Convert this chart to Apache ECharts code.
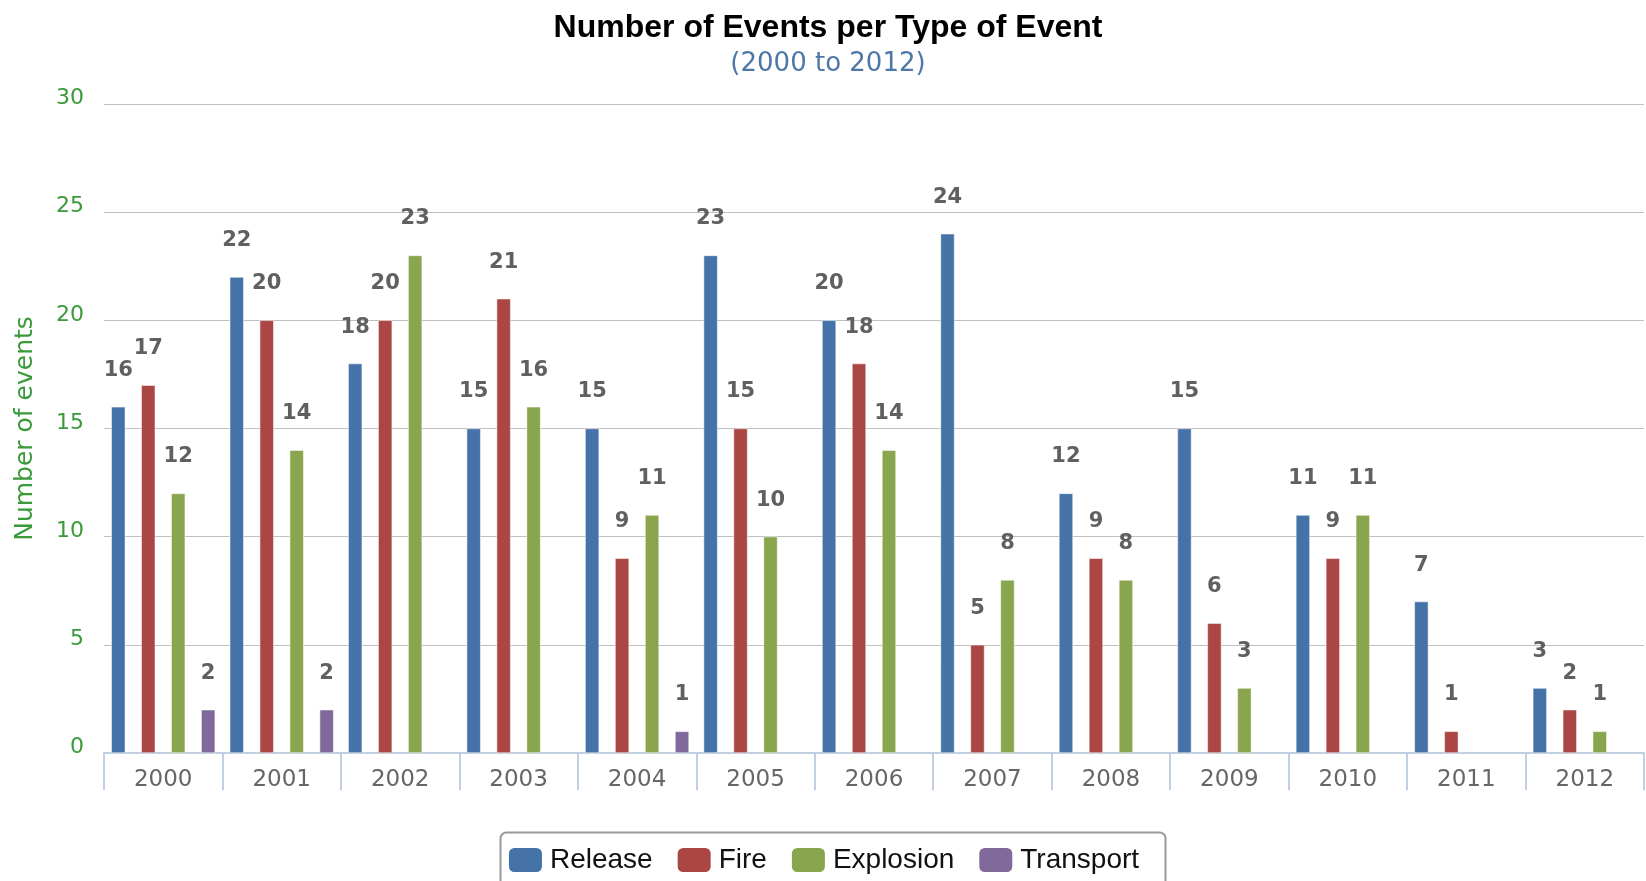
<!DOCTYPE html>
<html>
<head>
<meta charset="utf-8">
<title>Number of Events per Type of Event</title>
<script src="https://cdn.jsdelivr.net/npm/echarts@6/dist/echarts.min.js"></script>
<style>
  html, body { margin: 0; padding: 0; background: #fff; }
  #chart { width: 1646px; height: 881px; }
</style>
</head>
<body>
<div id="chart"></div>
<script>
// 数据
const years = ['2000', '2001', '2002', '2003', '2004', '2005', '2006', '2007', '2008', '2009', '2010', '2011', '2012']
const release = [16, 22, 18, 15, 15, 23, 20, 24, 12, 15, 11, 7, 3]
const fire = [17, 20, 20, 21, 9, 15, 18, 5, 9, 6, 9, 1, 2]
const explosion = [12, 14, 23, 16, 11, 10, 14, 8, 8, 3, 11, null, 1]
const transport = [2, 2, null, null, 1, null, null, null, null, null, null, null, null]

const colors = ['#4572A7', '#AA4643', '#89A54E', '#80699B']

const chart = echarts.init(document.getElementById('chart'))

function barSeries(name, data) {
  return {
    name,
    type: 'bar',
    data,
    barWidth: 14,
    barGap: '114%',
    itemStyle: { borderColor: '#fff', borderWidth: 0.5 },
    label: {
      show: true,
      position: 'top',
      distance: 26,
      color: '#606060',
      fontFamily: 'DejaVu Sans',
      fontWeight: 'bold',
      fontSize: 21,
    },
  }
}

chart.setOption({
  animation: false,
  color: colors,
  title: {
    text: 'Number of Events per Type of Event',
    subtext: '(2000 to 2012)',
    left: 828,
    textAlign: 'center',
    top: 12,
    padding: 0,
    itemGap: 7,
    textStyle: { fontFamily: 'Liberation Sans', fontWeight: 'bold', fontSize: 32, color: '#000' },
    subtextStyle: { fontFamily: 'DejaVu Sans', fontSize: 26, color: '#4d77a6' },
  },
  // 图例外框单独画，底边在画面之外
  graphic: [{
    type: 'rect',
    left: 498,
    top: 830,
    shape: { width: 665, height: 80, r: 6 },
    style: { fill: 'none', stroke: '#999', lineWidth: 2 },
  }],
  legend: {
    top: 846,
    left: 'center',
    icon: 'roundRect',
    itemWidth: 35,
    itemHeight: 26,
    itemGap: 23,
    padding: 0,
    textStyle: { fontFamily: 'Liberation Sans', fontSize: 28, color: '#111', padding: [0, 0, 0, 2] },
  },
  grid: { left: 104, right: 2, top: 104, bottom: 128 },
  xAxis: {
    type: 'category',
    data: years,
    axisLine: { lineStyle: { color: '#C0D0E0', width: 2 } },
    axisTick: { show: true, length: 37, lineStyle: { color: '#C0D0E0', width: 2 } },
    axisLabel: { fontFamily: 'DejaVu Sans', fontSize: 23, color: '#666', margin: 16 },
  },
  yAxis: {
    type: 'value',
    min: 0,
    max: 30,
    interval: 5,
    name: 'Number of events',
    nameLocation: 'middle',
    nameGap: 66,
    nameTextStyle: { fontFamily: 'DejaVu Sans', fontSize: 25, color: '#3a9a3a' },
    axisLine: { show: false },
    axisTick: { show: false },
    axisLabel: {
      fontFamily: 'DejaVu Sans',
      fontSize: 22,
      color: '#3a9a3a',
      margin: 20,
      verticalAlign: 'bottom',
      lineHeight: 11,
    },
    splitLine: { lineStyle: { color: '#C0C0C0', width: 1 } },
  },
  series: [
    barSeries('Release', release),
    barSeries('Fire', fire),
    barSeries('Explosion', explosion),
    barSeries('Transport', transport),
  ],
})
</script>
</body>
</html>
